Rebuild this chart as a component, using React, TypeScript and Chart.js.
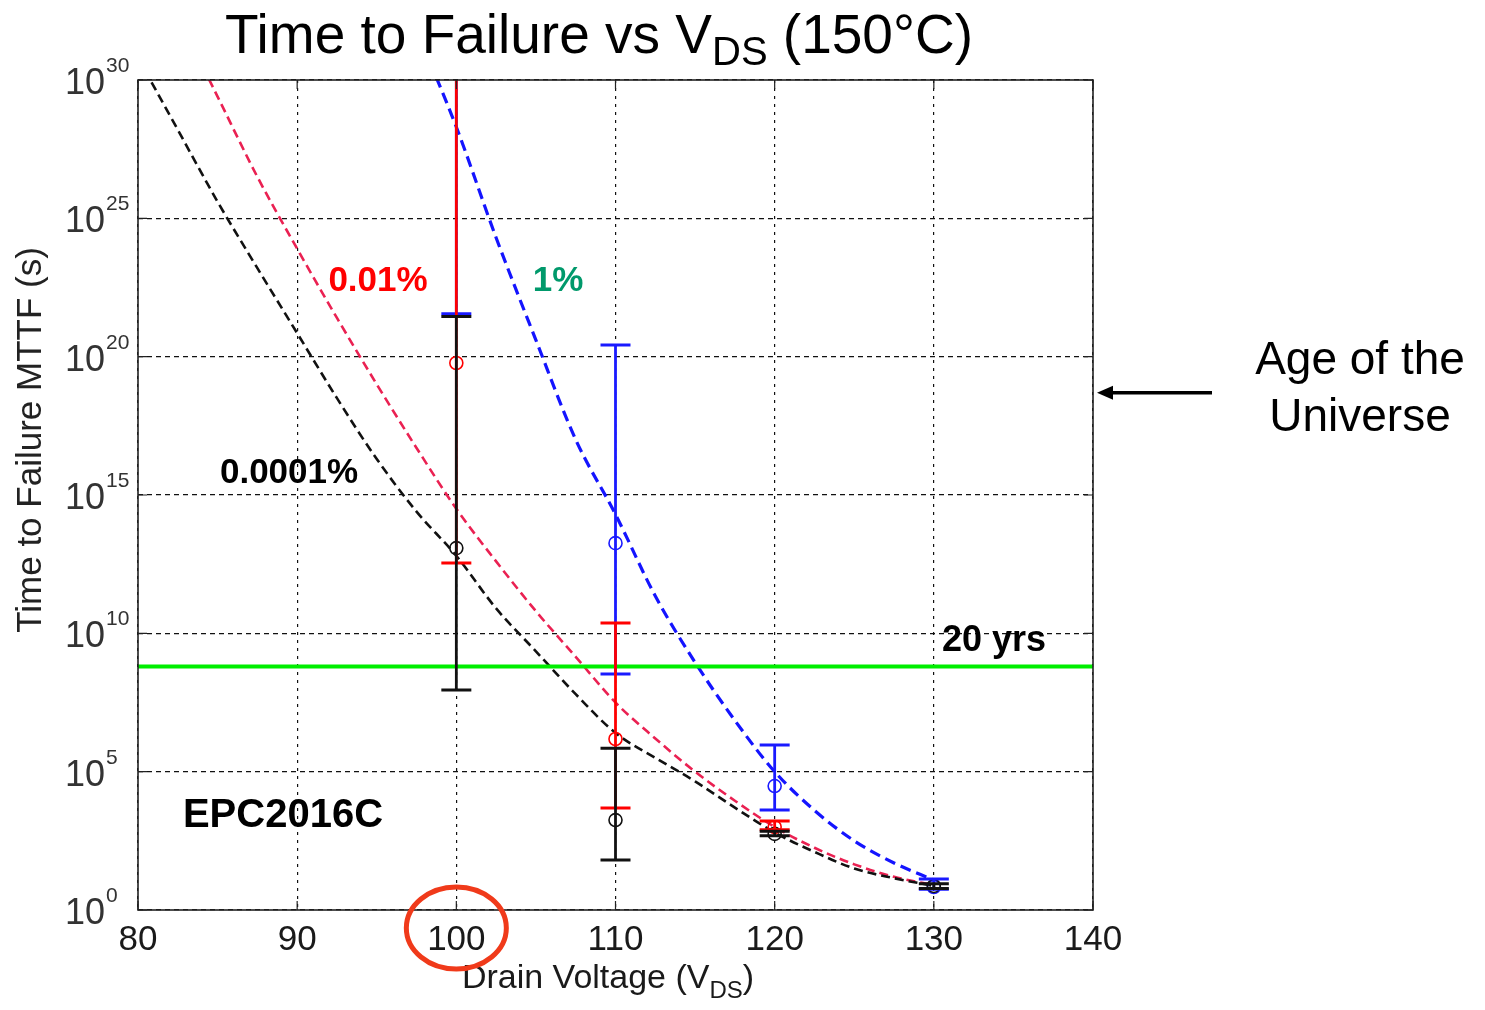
import { useEffect, useRef } from "react";
import { Chart, registerables } from "chart.js";

Chart.register(...registerables);

const WIDTH = 1485;
const HEIGHT = 1010;
const FONT = "'Liberation Sans', Arial, Helvetica, sans-serif";

// Lifetime curves: drain voltage (V) and log10(MTTF / s)
const VOLTS_0001 = [80, 82.5, 85, 87.5, 90, 92.5, 95, 97.5, 100, 102.5, 105, 107.5, 110, 112.5, 115, 117.5, 120, 122.5, 125, 127.5, 130];
const MTTF_0001 = [30.8, 28.2, 25.6, 23.2, 20.85, 18.5, 16.3, 14.4, 12.8, 10.9, 9.35, 7.8, 6.4, 5.5, 4.65, 3.7, 2.8, 2.1, 1.5, 1.15, 0.87];

const VOLTS_001 = [82.5, 85, 87.5, 90, 92.5, 95, 97.5, 100, 102.5, 105, 107.5, 110, 112.5, 115, 117.5, 120, 122.5, 125, 127.5, 130];
const MTTF_001 = [32.3, 29.4, 26.5, 23.9, 21.4, 19.0, 16.7, 14.5, 12.6, 10.8, 9.15, 7.5, 6.2, 5.0, 3.95, 3.0, 2.25, 1.65, 1.2, 0.9];

const VOLTS_1 = [97.5, 100, 102.5, 105, 107.5, 110, 112.5, 115, 117.5, 120, 122.5, 125, 127.5, 130];
const MTTF_1 = [31.8, 28.3, 24.3, 20.6, 17.0, 14.3, 11.35, 8.95, 6.85, 5.0, 3.6, 2.5, 1.7, 1.08];

// Measured MTTF with confidence bounds, log10(s); null = no point
const ERR_VOLTS = [100, 110, 120, 130];
const BLUE_MID = [null, 13.26, 4.48, 0.83];
const BLUE_LOW = [21.55, 8.53, 3.61, 0.75];
const BLUE_HIGH = [35, 20.42, 5.96, 1.12];
const RED_MID = [19.77, 6.18, 3.0, null];
const RED_LOW = [12.54, 3.69, 2.9, null];
const RED_HIGH = [35, 10.37, 3.22, null];
const BLACK_MID = [13.08, 3.25, 2.75, 0.87];
const BLACK_LOW = [7.95, 1.81, 2.68, 0.78];
const BLACK_HIGH = [21.45, 5.85, 2.85, 0.95];

const TWENTY_YEARS_S = 6.3e8;
const AGE_OF_UNIVERSE_LOG = 18.7;

const X_TICKS = [80, 90, 100, 110, 120, 130, 140];
const Y_TICK_EXPONENTS = [0, 5, 10, 15, 20, 25, 30];

// In-plot labels: text, volts, log10(s), colour, font size
const LABELS: [string, number, number, string, number][] = [
  ["0.01%", 95.08, 22.73, "#ff0000", 35],
  ["1%", 106.39, 22.73, "#00996b", 35],
  ["0.0001%", 89.49, 15.8, "#000000", 35],
  ["EPC2016C", 89.11, 3.4, "#000000", 40],
  ["20 yrs", 133.78, 9.72, "#000000", 36],
];

const pow10 = (e: number) => Math.pow(10, e);
const toPoints = (xs: number[], ys: number[]) => xs.map((x, i) => ({ x, y: pow10(ys[i]) }));
const toMarkers = (mids: (number | null)[]) =>
  ERR_VOLTS.map((x, i) => ({ x, y: mids[i] === null ? null : pow10(mids[i] as number) })).filter((p) => p.y !== null);

const curve = (data: any, color: string, width: number, dash: number[]) => ({
  data,
  borderColor: color,
  borderWidth: width,
  borderDash: dash,
  pointRadius: 0,
  cubicInterpolationMode: "monotone",
  fill: false,
  clip: 0,
});

const markers = (data: any, color: string) => ({
  data,
  showLine: false,
  pointStyle: "circle",
  pointRadius: 6.5,
  pointBorderWidth: 1.6,
  pointBorderColor: color,
  pointBackgroundColor: "rgba(0,0,0,0)",
  borderColor: color,
  clip: 0,
});

function drawErrorBars(ctx: CanvasRenderingContext2D, x: any, y: any, low: (number | null)[], high: (number | null)[], color: string) {
  ctx.strokeStyle = color;
  ERR_VOLTS.forEach((v, i) => {
    const lo = low[i];
    const hi = high[i];
    if (lo === null || hi === null) return;
    const px = x.getPixelForValue(v);
    const pLo = y.getPixelForValue(pow10(lo));
    const pHi = y.getPixelForValue(pow10(hi));
    ctx.lineWidth = 2.8;
    ctx.beginPath();
    ctx.moveTo(px, pLo);
    ctx.lineTo(px, pHi);
    ctx.stroke();
    ctx.lineWidth = 3;
    ctx.beginPath();
    ctx.moveTo(px - 15, pLo);
    ctx.lineTo(px + 15, pLo);
    ctx.moveTo(px - 15, pHi);
    ctx.lineTo(px + 15, pHi);
    ctx.stroke();
  });
}

function drawSubText(ctx: CanvasRenderingContext2D, parts: [string, number, number][], x: number, baseline: number) {
  // parts: text, font size, baseline shift
  let cx = x;
  ctx.textAlign = "left";
  ctx.textBaseline = "alphabetic";
  parts.forEach(([t, size, shift]) => {
    ctx.font = `${size}px ${FONT}`;
    ctx.fillText(t, cx, baseline + shift);
    cx += ctx.measureText(t).width;
  });
}

function measureParts(ctx: CanvasRenderingContext2D, parts: [string, number, number][]) {
  let w = 0;
  parts.forEach(([t, size]) => {
    ctx.font = `${size}px ${FONT}`;
    w += ctx.measureText(t).width;
  });
  return w;
}

const overlayPlugin = {
  id: "overlay",
  afterDatasetsDraw(chart: any) {
    const { ctx, chartArea: a, scales } = chart;
    const x = scales.x;
    const y = scales.y;
    ctx.save();
    ctx.beginPath();
    ctx.rect(a.left, a.top, a.right - a.left, a.bottom - a.top);
    ctx.clip();
    ctx.setLineDash([]);
    drawErrorBars(ctx, x, y, BLUE_LOW, BLUE_HIGH, "#1a1aff");
    drawErrorBars(ctx, x, y, RED_LOW, RED_HIGH, "#ff0000");
    drawErrorBars(ctx, x, y, BLACK_LOW, BLACK_HIGH, "#111111");
    ctx.restore();
  },
  afterDraw(chart: any) {
    const { ctx, chartArea: a, scales } = chart;
    const x = scales.x;
    const y = scales.y;
    ctx.save();
    ctx.setLineDash([]);

    // axes box and inward tick marks
    ctx.strokeStyle = "#222";
    ctx.lineWidth = 1.6;
    ctx.strokeRect(a.left, a.top, a.right - a.left, a.bottom - a.top);
    ctx.lineWidth = 1.2;
    ctx.beginPath();
    X_TICKS.forEach((v) => {
      const px = x.getPixelForValue(v);
      ctx.moveTo(px, a.bottom);
      ctx.lineTo(px, a.bottom - 9);
      ctx.moveTo(px, a.top);
      ctx.lineTo(px, a.top + 9);
    });
    Y_TICK_EXPONENTS.forEach((e) => {
      const py = y.getPixelForValue(pow10(e));
      ctx.moveTo(a.left, py);
      ctx.lineTo(a.left + 9, py);
      ctx.moveTo(a.right, py);
      ctx.lineTo(a.right - 9, py);
    });
    ctx.stroke();

    ctx.fillStyle = "#1a1a1a";
    // x tick labels
    ctx.font = `35px ${FONT}`;
    ctx.textAlign = "center";
    ctx.textBaseline = "alphabetic";
    X_TICKS.forEach((v) => {
      ctx.fillText(String(v), x.getPixelForValue(v), a.bottom + 40);
    });
    // y tick labels 10^n
    ctx.fillStyle = "#333";
    Y_TICK_EXPONENTS.forEach((e) => {
      const py = y.getPixelForValue(pow10(e));
      ctx.font = `36px ${FONT}`;
      ctx.textAlign = "right";
      ctx.fillText("10", a.left - 33, py + 14);
      ctx.font = `21px ${FONT}`;
      ctx.textAlign = "left";
      ctx.fillText(String(e), a.left - 32, py - 8);
    });

    // axis titles
    ctx.fillStyle = "#1a1a1a";
    const xTitle: [string, number, number][] = [
      ["Drain Voltage (V", 34, 0],
      ["DS", 24, 10],
      [")", 34, 0],
    ];
    const xw = measureParts(ctx, xTitle);
    drawSubText(ctx, xTitle, 608 - xw / 2, a.bottom + 78);

    ctx.save();
    ctx.translate(31, 440);
    ctx.rotate(-Math.PI / 2);
    ctx.font = `35px ${FONT}`;
    ctx.textAlign = "center";
    ctx.textBaseline = "middle";
    ctx.fillStyle = "#222";
    ctx.fillText("Time to Failure MTTF (s)", 0, 0);
    ctx.restore();

    // chart title
    ctx.fillStyle = "#000";
    const title: [string, number, number][] = [
      ["Time to Failure vs V", 55, 0],
      ["DS", 40, 12],
      [" (150°C)", 55, 0],
    ];
    const tw = measureParts(ctx, title);
    drawSubText(ctx, title, 599 - tw / 2, 53);

    // in-plot labels
    ctx.textAlign = "center";
    ctx.textBaseline = "middle";
    LABELS.forEach(([t, v, e, color, size]) => {
      ctx.font = `bold ${size}px ${FONT}`;
      ctx.fillStyle = color;
      ctx.fillText(t, x.getPixelForValue(v), y.getPixelForValue(pow10(e)));
    });

    // age of the universe callout
    const ay = y.getPixelForValue(pow10(AGE_OF_UNIVERSE_LOG));
    ctx.strokeStyle = "#000";
    ctx.fillStyle = "#000";
    ctx.lineWidth = 3.5;
    ctx.beginPath();
    ctx.moveTo(a.right + 119, ay);
    ctx.lineTo(a.right + 14, ay);
    ctx.stroke();
    ctx.beginPath();
    ctx.moveTo(a.right + 4, ay);
    ctx.lineTo(a.right + 20, ay - 7);
    ctx.lineTo(a.right + 20, ay + 7);
    ctx.closePath();
    ctx.fill();
    ctx.font = `46px ${FONT}`;
    ctx.textAlign = "center";
    ctx.textBaseline = "middle";
    ctx.fillText("Age of the", a.right + 267, ay - 31);
    ctx.fillText("Universe", a.right + 267, ay + 26);

    // highlight ring around the 100 V tick label
    ctx.strokeStyle = "#f03a1a";
    ctx.lineWidth = 5;
    ctx.beginPath();
    ctx.ellipse(x.getPixelForValue(100), a.bottom + 18, 50, 41, 0, 0, Math.PI * 2);
    ctx.stroke();

    ctx.restore();
  },
};

export default function App() {
  const ref = useRef<HTMLCanvasElement>(null);

  useEffect(() => {
    const canvas = ref.current;
    if (!canvas) return;
    const chart = new Chart(canvas, {
      type: "line",
      data: {
        datasets: [
          { ...curve(toPoints(VOLTS_1, MTTF_1), "#1414ff", 3.2, [11, 6]), order: 6 },
          { ...curve(toPoints(VOLTS_001, MTTF_001), "#ea2152", 2.6, [9, 5]), order: 5 },
          { ...curve(toPoints(VOLTS_0001, MTTF_0001), "#111111", 2.6, [9, 5]), order: 4 },
          {
            data: [
              { x: 80, y: TWENTY_YEARS_S },
              { x: 140, y: TWENTY_YEARS_S },
            ],
            borderColor: "#00ee00",
            borderWidth: 4,
            pointRadius: 0,
            fill: false,
            clip: 0,
            order: 3,
          },
          { ...markers(toMarkers(BLUE_MID), "#1a1aff"), order: 2 },
          { ...markers(toMarkers(RED_MID), "#ff0000"), order: 1 },
          { ...markers(toMarkers(BLACK_MID), "#111111"), order: 0 },
        ] as any,
      },
      options: {
        animation: false,
        responsive: false,
        maintainAspectRatio: false,
        devicePixelRatio: 1,
        layout: { padding: { left: 138, right: 392, top: 80, bottom: 100 } },
        plugins: { legend: { display: false }, tooltip: { enabled: false }, title: { display: false } },
        events: [],
        scales: {
          x: {
            type: "linear",
            min: 80,
            max: 140,
            ticks: { display: false, stepSize: 10 },
            grid: { color: "#111", lineWidth: 1.2, drawTicks: false },
            border: { display: false, dash: [3, 5] },
            afterFit: (s: any) => {
              s.height = 0;
            },
          },
          y: {
            type: "logarithmic",
            min: 1,
            max: 1e30,
            ticks: { display: false },
            grid: { color: "#111", lineWidth: 1.2, drawTicks: false },
            border: { display: false, dash: [5, 4] },
            afterBuildTicks: (s: any) => {
              s.ticks = Y_TICK_EXPONENTS.map((e) => ({ value: pow10(e) }));
            },
            afterFit: (s: any) => {
              s.width = 0;
            },
          },
        },
      } as any,
      plugins: [overlayPlugin],
    });
    return () => chart.destroy();
  }, []);

  return (
    <div style={{ position: "absolute", left: 0, top: 0, width: WIDTH, height: HEIGHT, background: "#fff" }}>
      <canvas ref={ref} width={WIDTH} height={HEIGHT} style={{ display: "block", width: WIDTH, height: HEIGHT }} />
    </div>
  );
}
